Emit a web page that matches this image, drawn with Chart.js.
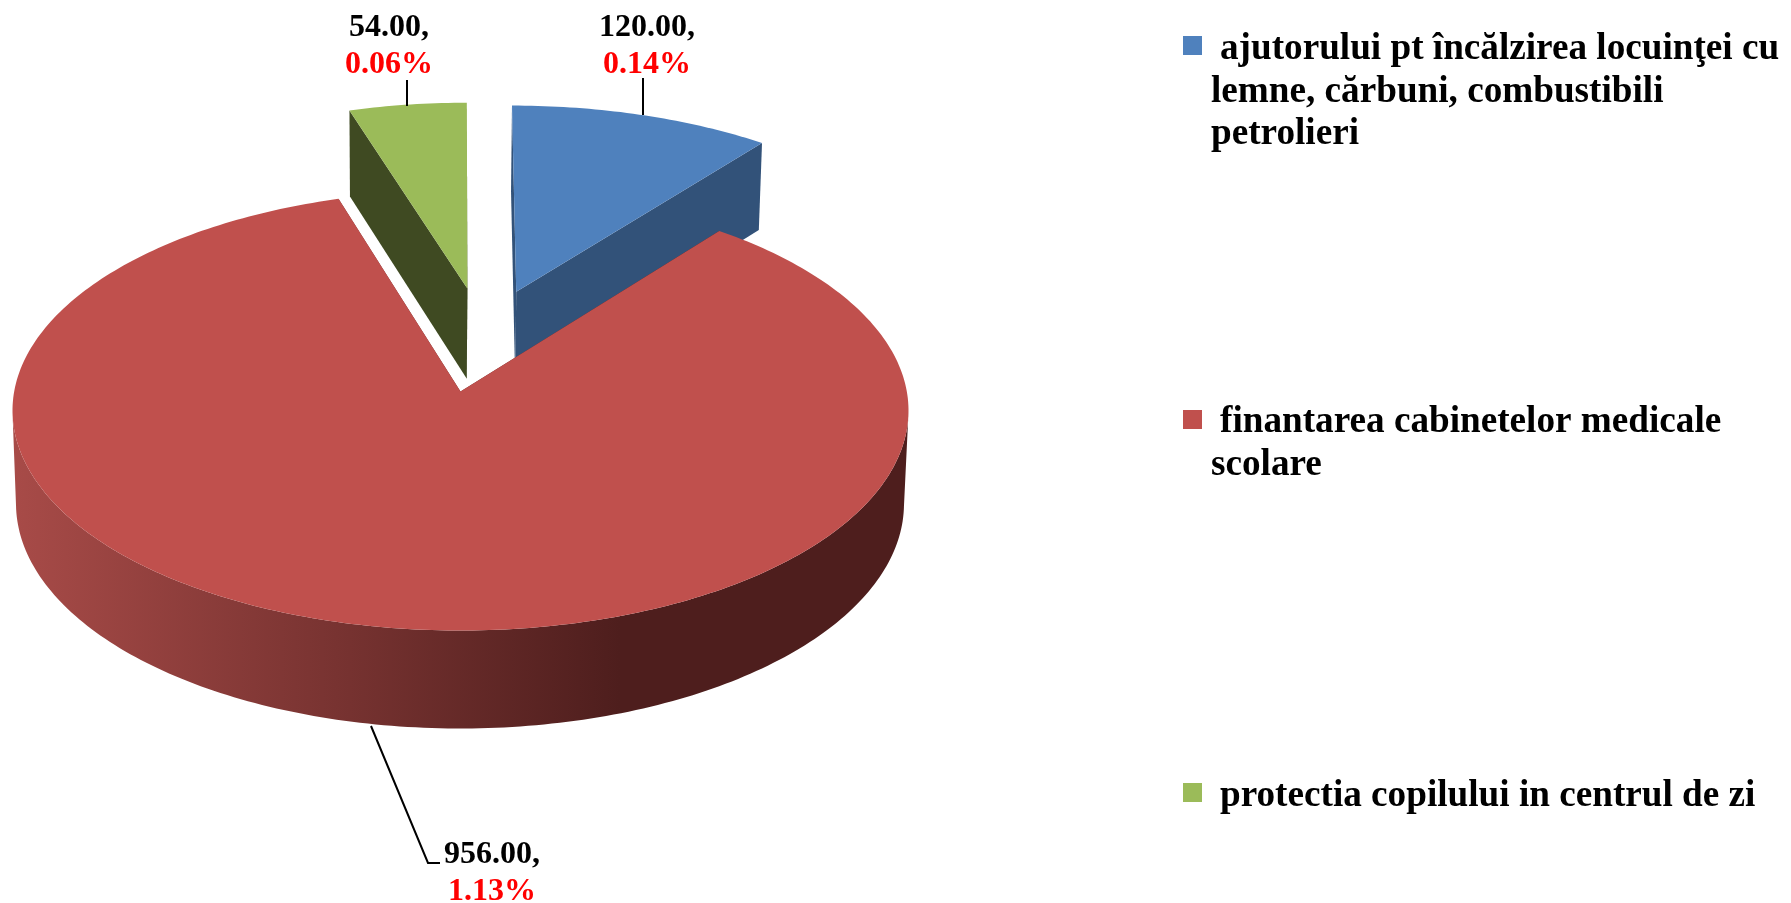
<!DOCTYPE html>
<html>
<head>
<meta charset="utf-8">
<title>Pie chart</title>
<script src="https://cdn.jsdelivr.net/npm/chart.js@4/dist/chart.umd.min.js"></script>
<style>
    html, body { margin: 0; padding: 0; background: #ffffff; }
    canvas { display: block; }
</style>
</head>
<body>
<canvas id="pieChart" width="1791" height="903"></canvas>
<script>
// Chart data
const categories = [
    ['ajutorului pt încălzirea locuinţei cu', 'lemne, cărbuni, combustibili', 'petrolieri'],
    ['finantarea cabinetelor medicale', 'scolare'],
    ['protectia copilului in centrul de zi']
];
const amounts = [120, 956, 54];
const amountLabels = ['120.00,', '956.00,', '54.00,'];
const percentLabels = ['0.14%', '1.13%', '0.06%'];

// Slice colours
const topColors = ['#4f81bd', '#c0504d', '#9bbb59'];
const wallColors = ['#325279', '#4e1e1d', '#3f4a22'];

// Exploded slices, in units of the pie radius
const sliceShift = [[0.13, -0.476], [0, 0], [0.016, -0.4925]];

// The tilted pie: an upper and a lower ellipse, with perspective pulling the centre back
const upperPlane = { cx: 460.5, cy: 410.5, rx: 448, ry: 220 };
const lowerPlane = { cx: 460, cy: 503.5, rx: 444, ry: 225 };
const perspective = -0.086;

// Label and legend layout
const labelFont = 'bold 32px "Liberation Serif"';
const legendFont = 'bold 37.2px "Liberation Serif"';
const labelLayout = [
    { x: 647, amountY: 36, percentY: 73, line: [[643, 78], [643, 115]] },
    { x: 492, amountY: 863, percentY: 900, line: [[371, 726], [428, 863], [440, 863]] },
    { x: 389, amountY: 36, percentY: 73, line: [[407, 80], [407, 106]] }
];
const legendLayout = [
    { boxY: 36, baseY: 59 },
    { boxY: 410, baseY: 432 },
    { boxY: 783, baseY: 806 }
];

function project(u, v, plane) {
    const w = 1 + perspective * v;
    const nx = u * Math.sqrt(1 - perspective * perspective) / w;
    const ny = (v + perspective) / w;
    return [plane.cx + plane.rx * nx, plane.cy + plane.ry * ny];
}

function arcAngles(arc) {
    const steps = Math.max(8, Math.ceil((arc.endAngle - arc.startAngle) * 60));
    const angles = [];
    for (let i = 0; i <= steps; i++) {
        angles.push(arc.startAngle + (arc.endAngle - arc.startAngle) * i / steps);
    }
    return angles;
}

function fillPolygon(ctx, points, fill) {
    ctx.beginPath();
    points.forEach((p, i) => {
        if (i === 0) ctx.moveTo(p[0], p[1]);
        else ctx.lineTo(p[0], p[1]);
    });
    ctx.closePath();
    ctx.fillStyle = fill;
    ctx.fill();
}

function wallFill(ctx, index) {
    // The big slice fades along its rim, the others are flat
    if (index !== 1) return wallColors[index];
    const gradient = ctx.createLinearGradient(11, 0, 620, 0);
    gradient.addColorStop(0, '#a84b48');
    gradient.addColorStop(1, wallColors[1]);
    return gradient;
}

function drawSlice(ctx, arc, index) {
    const shift = sliceShift[index];
    const onPlane = (a, plane) => project(shift[0] + Math.cos(a), shift[1] + Math.sin(a), plane);
    const angles = arcAngles(arc);
    const top = angles.map(a => onPlane(a, upperPlane));
    const bottom = angles.map(a => onPlane(a, lowerPlane));
    const topCentre = project(shift[0], shift[1], upperPlane);
    const bottomCentre = project(shift[0], shift[1], lowerPlane);
    const fill = wallFill(ctx, index);

    // cut faces first
    fillPolygon(ctx, [topCentre, top[0], bottom[0], bottomCentre], fill);
    fillPolygon(ctx, [topCentre, top[top.length - 1], bottom[bottom.length - 1], bottomCentre], fill);

    // rim, only the part turned to the viewer (from one side of the ellipse to the other)
    const front = angles.filter(a => Math.sin(a) >= -perspective);
    if (front.length > 1) {
        const rim = front.map(a => onPlane(a, upperPlane))
            .concat(front.slice().reverse().map(a => onPlane(a, lowerPlane)));
        fillPolygon(ctx, rim, fill);
    }

    // top face over them
    fillPolygon(ctx, [topCentre].concat(top), topColors[index]);
}

// Draws the arcs Chart.js laid out as a tilted 3D pie
const tiltedPie = {
    id: 'tiltedPie',
    beforeDatasetDraw(chart, args) {
        const arcs = chart.getDatasetMeta(args.index).data;
        const ctx = chart.ctx;
        // back slices first, the big slice in front
        [0, 2, 1].forEach(i => drawSlice(ctx, arcs[i], i));
        return false;
    }
};

// Draws leader lines, data labels and the legend
const pieLabels = {
    id: 'pieLabels',
    afterDraw(chart) {
        const ctx = chart.ctx;
        ctx.save();
        ctx.font = labelFont;
        ctx.textBaseline = 'alphabetic';

        labelLayout.forEach((layout, i) => {
            ctx.beginPath();
            layout.line.forEach((p, j) => {
                if (j === 0) ctx.moveTo(p[0], p[1]);
                else ctx.lineTo(p[0], p[1]);
            });
            ctx.strokeStyle = '#000000';
            ctx.lineWidth = 2;
            ctx.stroke();

            ctx.textAlign = 'center';
            ctx.fillStyle = '#000000';
            ctx.fillText(amountLabels[i], layout.x, layout.amountY);
            ctx.fillStyle = '#ff0000';
            ctx.fillText(percentLabels[i], layout.x, layout.percentY);
        });

        ctx.font = legendFont;
        ctx.textAlign = 'left';
        categories.forEach((lines, i) => {
            const layout = legendLayout[i];
            ctx.fillStyle = topColors[i];
            ctx.fillRect(1183, layout.boxY, 19, 19);
            ctx.fillStyle = '#000000';
            lines.forEach((line, j) => {
                ctx.fillText(line, j === 0 ? 1220 : 1211, layout.baseY + j * 42.5);
            });
        });
        ctx.restore();
    }
};

const pieChart = new Chart(document.getElementById('pieChart').getContext('2d'), {
    type: 'pie',
    data: {
        labels: categories,
        datasets: [{
            data: amounts,
            backgroundColor: topColors,
            borderWidth: 0
        }]
    },
    options: {
        responsive: false,
        animation: false,
        plugins: {
            legend: { display: false },
            tooltip: { enabled: false }
        }
    },
    plugins: [tiltedPie, pieLabels]
});
</script>
</body>
</html>
